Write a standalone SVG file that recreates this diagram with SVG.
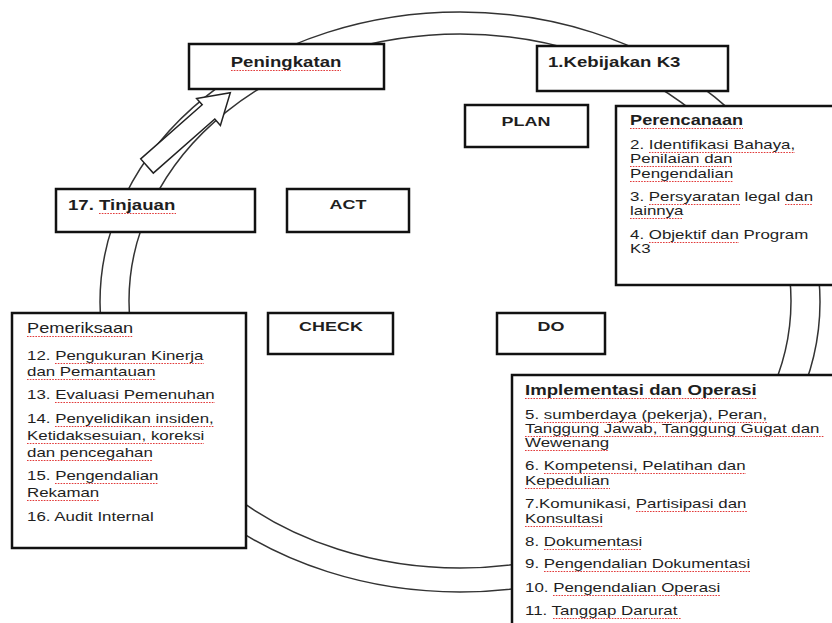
<svg xmlns="http://www.w3.org/2000/svg" width="832" height="623" viewBox="0 0 832 623">
<style>
.box{fill:#fff;stroke:#111;stroke-width:2.5}
.ring{fill:none;stroke:#333;stroke-width:1.5}
.arrow{fill:#fff;stroke:#222;stroke-width:1.5;stroke-linejoin:miter}
.t{font-family:"Liberation Sans",Arial,sans-serif;font-size:13px;fill:#1e1e1e}
.h{font-weight:bold;font-size:14px}
.lb{font-weight:bold;font-size:13.5px;text-anchor:middle}
.sq{fill:none;stroke:#e23a3a;stroke-width:1.2;stroke-dasharray:1.6 1.2}
</style>
<rect width="832" height="623" fill="#fff"/>
<g id="connectors">
<ellipse class="ring" cx="460" cy="302" rx="360" ry="290"/>
<ellipse class="ring" cx="460" cy="301" rx="331" ry="267"/>
<polygon class="arrow" points="140.7,158.9 202.2,104.8 196.6,98.4 230.3,92.8 220.4,125.4 214.8,119 153.3,173.1"/>
</g>
<g id="peningkatan">
<rect class="box" x="189" y="44" width="195" height="45"/>
<text class="t h" text-anchor="middle" transform="translate(286 67) scale(1.33 1)">Peningkatan</text>
<path class="sq" d="M231 70.5H341"/>
</g>
<g id="kebijakan">
<rect class="box" x="537" y="46" width="191" height="45"/>
<text class="t h" transform="translate(548 67) scale(1.33 1)">1.Kebijakan K3</text>
</g>
<g id="plan">
<rect class="box" x="465" y="105" width="123" height="42"/>
<text class="t lb" transform="translate(526 126) scale(1.33 1)">PLAN</text>
</g>
<g id="perencanaan">
<rect class="box" x="616" y="106" width="240" height="179"/>
<text class="t h" transform="translate(630 125) scale(1.3 1)">Perencanaan</text>
<text class="t" transform="translate(630 149) scale(1.3 1)">2. Identifikasi Bahaya,</text>
<text class="t" transform="translate(630 163) scale(1.3 1)">Penilaian dan</text>
<text class="t" transform="translate(630 178) scale(1.3 1)">Pengendalian</text>
<text class="t" transform="translate(630 201) scale(1.3 1)">3. Persyaratan legal dan</text>
<text class="t" transform="translate(630 215) scale(1.3 1)">lainnya</text>
<text class="t" transform="translate(630 239) scale(1.3 1)">4. Objektif dan Program</text>
<text class="t" transform="translate(630 253) scale(1.3 1)">K3</text>
<path class="sq" d="M630 128.5H743 M649 152.5H795 M630 166.5H732 M630 181.5H733 M649 204.5H740 M785 204.5H813 M630 218.5H683 M649 242.5H739"/>
</g>
<g id="tinjauan">
<rect class="box" x="56" y="189" width="199" height="43"/>
<text class="t h" transform="translate(68 210) scale(1.33 1)">17. Tinjauan</text>
<path class="sq" d="M99 213.5H176"/>
</g>
<g id="act">
<rect class="box" x="287" y="189" width="122" height="43"/>
<text class="t lb" transform="translate(348 209) scale(1.33 1)">ACT</text>
</g>
<g id="check">
<rect class="box" x="268" y="313" width="125" height="41"/>
<text class="t lb" transform="translate(331 331) scale(1.33 1)">CHECK</text>
</g>
<g id="do">
<rect class="box" x="497" y="313" width="108" height="41"/>
<text class="t lb" transform="translate(551 331) scale(1.33 1)">DO</text>
</g>
<g id="pemeriksaan">
<rect class="box" x="12" y="313" width="234" height="235"/>
<text class="t" style="font-size:14px" transform="translate(27 333) scale(1.3 1)">Pemeriksaan</text>
<text class="t" transform="translate(27 360) scale(1.3 1)">12. Pengukuran Kinerja</text>
<text class="t" transform="translate(27 376) scale(1.3 1)">dan Pemantauan</text>
<text class="t" transform="translate(27 399) scale(1.3 1)">13. Evaluasi Pemenuhan</text>
<text class="t" transform="translate(27 423) scale(1.3 1)">14. Penyelidikan insiden,</text>
<text class="t" transform="translate(27 440) scale(1.3 1)">Ketidaksesuian, koreksi</text>
<text class="t" transform="translate(27 457) scale(1.3 1)">dan pencegahan</text>
<text class="t" transform="translate(27 480) scale(1.3 1)">15. Pengendalian</text>
<text class="t" transform="translate(27 497) scale(1.3 1)">Rekaman</text>
<text class="t" transform="translate(27 521) scale(1.3 1)">16. Audit Internal</text>
<path class="sq" d="M27 336.5H133 M55 363.5H204 M27 379.5H156 M55 402.5H215 M55 426.5H214 M27 443.5H204 M27 460.5H153 M55 483.5H158 M27 500.5H99"/>
</g>
<g id="implementasi">
<rect class="box" x="512" y="375" width="340" height="260"/>
<text class="t h" transform="translate(525 395) scale(1.33 1)">Implementasi dan Operasi</text>
<text class="t" transform="translate(525 419) scale(1.3 1)">5. sumberdaya (pekerja), Peran,</text>
<text class="t" transform="translate(525 433) scale(1.3 1)">Tanggung Jawab, Tanggung Gugat dan</text>
<text class="t" transform="translate(525 447) scale(1.3 1)">Wewenang</text>
<text class="t" transform="translate(525 470) scale(1.3 1)">6. Kompetensi, Pelatihan dan</text>
<text class="t" transform="translate(525 485) scale(1.3 1)">Kepedulian</text>
<text class="t" transform="translate(525 508) scale(1.3 1)">7.Komunikasi, Partisipasi dan</text>
<text class="t" transform="translate(525 523) scale(1.3 1)">Konsultasi</text>
<text class="t" transform="translate(525 546) scale(1.3 1)">8. Dokumentasi</text>
<text class="t" transform="translate(525 568) scale(1.3 1)">9. Pengendalian Dokumentasi</text>
<text class="t" transform="translate(525 592) scale(1.3 1)">10. Pengendalian Operasi</text>
<text class="t" transform="translate(525 615) scale(1.3 1)">11. Tanggap Darurat</text>
<path class="sq" d="M525 398.5H757 M544 422.5H767 M525 436.5H824 M525 450.5H609 M544 473.5H746 M525 488.5H610 M636 511.5H747 M525 526.5H603 M544 549.5H642 M544 571.5H750 M553 595.5H720 M553 618.5H681"/>
</g>
</svg>
